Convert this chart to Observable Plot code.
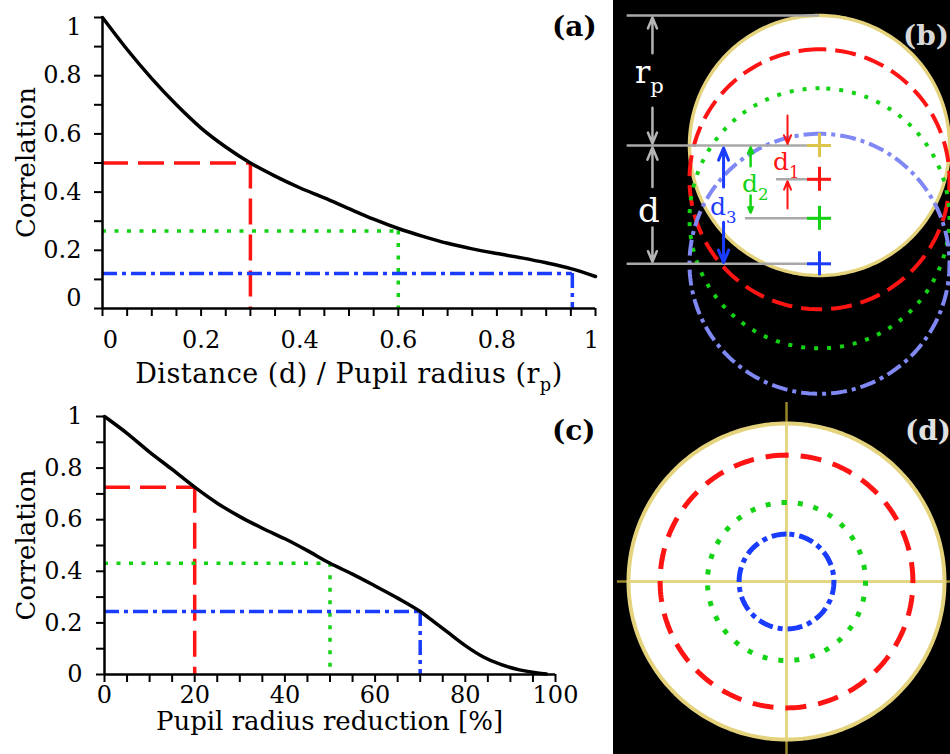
<!DOCTYPE html>
<html>
<head>
<meta charset="utf-8">
<script src="https://cdn.jsdelivr.net/npm/d3@7"></script>
<script src="https://cdn.jsdelivr.net/npm/@observablehq/plot@0.6"></script>
<style>
  html, body { margin: 0; padding: 0; background: #fff; }
  #root { position: relative; width: 950px; height: 754px; overflow: hidden; background: #fff; }
  #root svg { position: absolute; display: block; }
  #root svg g[aria-label$="tick label"] { font-size: 24px !important; font-family: 'DejaVu Serif', serif; }
  #dark { position: absolute; left: 613px; top: 0; width: 337px; height: 754px; background: #000; }
</style>
</head>
<body>
<div id="root"><div id="dark"></div></div>
<script>
// ---------------- DATA ----------------
// Panel (a): correlation vs distance d / pupil radius r_p
const aDist = [0, 0.05, 0.1, 0.15, 0.2, 0.25, 0.3, 0.35, 0.4, 0.45, 0.5, 0.55, 0.6, 0.65, 0.7, 0.75, 0.8, 0.85, 0.9, 0.95, 1.0];
const aCorr = [1.0, 0.89, 0.79, 0.70, 0.62, 0.555, 0.50, 0.455, 0.415, 0.38, 0.343, 0.307, 0.275, 0.248, 0.224, 0.205, 0.189, 0.174, 0.157, 0.137, 0.11];
const aRefDist = [0.3, 0.6, 0.953];
const aRefCorr = [0.5, 0.266, 0.12];
const aXTicks = [0, 0.2, 0.4, 0.6, 0.8, 1];
const aYTicks = [0, 0.2, 0.4, 0.6, 0.8, 1];

// Panel (c): correlation vs pupil radius reduction [%]
const cReduction = [0, 5, 10, 15, 20, 25, 30, 35, 40, 45, 50, 55, 60, 65, 70, 73, 76, 80, 84, 88, 92, 96, 98];
const cCorr = [1.0, 0.935, 0.862, 0.795, 0.726, 0.664, 0.612, 0.567, 0.526, 0.48, 0.431, 0.389, 0.343, 0.296, 0.244, 0.205, 0.165, 0.112, 0.068, 0.038, 0.018, 0.006, 0.002];
const cRefReduction = [20, 50, 70];
const cRefCorr = [0.726, 0.431, 0.244];
const cXTicks = [0, 20, 40, 60, 80, 100];
const cYTicks = [0, 0.2, 0.4, 0.6, 0.8, 1];

// Panel (b): displacement of the shifted pupils (units of r_p), as drawn
const bShift = [0.26, 0.56, 0.91];
const bSubs = ["1", "2", "3"];

// ---------------- STYLE ----------------
const FONT = "'DejaVu Serif', serif";
const refColors = ["#ff1414", "#14d214", "#1a3cff"];
const bColors = ["#ff1414", "#14d214", "#7f88f3"];
const dashPlot = ["26,10", "4,8.5", "15,5,4,5"];
const fmt = d3.format("~g");
const root = document.getElementById("root");

function place(svg, left, top) {
  svg.style.left = left + "px";
  svg.style.top = top + "px";
  root.appendChild(svg);
  return svg;
}

function addText(svg, x, y, parts, o) {
  const t = d3.select(svg).append("text")
    .attr("x", x).attr("y", y)
    .attr("font-family", FONT).attr("font-size", o.size)
    .attr("fill", o.fill || "black")
    .attr("font-weight", o.weight || "normal")
    .attr("text-anchor", o.anchor || "start");
  if (o.spacing) t.attr("letter-spacing", o.spacing);
  if (o.rotate) t.attr("transform", `rotate(${o.rotate},${x},${y})`);
  let inSub = false;
  for (const [txt, sub] of parts) {
    const s = t.append("tspan").text(txt);
    if (sub && !inSub) { s.attr("dy", o.size * 0.3); inSub = true; }
    else if (!sub && inSub) { s.attr("dy", -o.size * 0.3); inSub = false; }
    if (sub) s.attr("font-size", o.size * 0.66);
  }
  return t;
}

function axisMarks(axis, labels, offsets, minor, pad) {
  const A = axis === "x" ? Plot.axisX : Plot.axisY;
  const common = {tickSize: 0, tickPadding: pad, label: null, fontSize: 24, tickFormat: fmt};
  const off = axis === "x" ? "dx" : "dy";
  const marks = [
    A({ticks: minor, tickSize: 8, strokeWidth: 2, tickFormat: () => "", label: null}),
    A({...common, ticks: labels.filter(v => !(v in offsets))})
  ];
  for (const v of labels) if (v in offsets) marks.push(A({...common, ticks: [v], [off]: offsets[v]}));
  return marks;
}

function refMarks(xs, ys, colors) {
  const marks = [];
  xs.forEach((xv, i) => {
    const row = [{x: xv, y: ys[i]}];
    marks.push(Plot.ruleY(row, {y: "y", x1: 0, x2: "x", stroke: colors[i], strokeWidth: 3.5, strokeDasharray: dashPlot[i]}));
    marks.push(Plot.ruleX(row, {x: "x", y1: "y", y2: 0, stroke: colors[i], strokeWidth: 3.5, strokeDasharray: dashPlot[i]}));
  });
  return marks;
}

// ---------------- PANEL (a) ----------------
const aRows = aDist.map((d, i) => ({d, c: aCorr[i]}));
const plotA = Plot.plot({
  width: 612, height: 395,
  marginLeft: 102, marginRight: 17, marginTop: 17, marginBottom: 87,
  x: {domain: [0, 1]}, y: {domain: [0, 1]},
  style: {fontFamily: FONT, fontSize: "24px", color: "black", background: "white", overflow: "visible"},
  marks: [
    ...refMarks(aRefDist, aRefCorr, refColors),
    Plot.line(aRows, {x: "d", y: "c", curve: "monotone-x", stroke: "black", strokeWidth: 3.5}),
    Plot.ruleY([0], {stroke: "black", strokeWidth: 2.5}),
    Plot.ruleX([0], {stroke: "black", strokeWidth: 2.5}),
    ...axisMarks("x", aXTicks, {0: 8, 1: -4}, d3.range(0, 1.0001, 0.05), 22),
    ...axisMarks("y", aYTicks, {0: -10, 1: 10}, d3.range(0, 1.0001, 0.1), 21)
  ]
});
place(plotA, 0, 0);
addText(plotA, 349, 383, [["Distance (d) / Pupil radius (r", false], ["p", true], [")", false]], {size: 27, anchor: "middle", spacing: 0.5});
addText(plotA, 35, 162.5, [["Correlation", false]], {size: 26, anchor: "middle", rotate: -90});
addText(plotA, 552, 36, [["(a)", false]], {size: 28, weight: "bold"});

// ---------------- PANEL (c) ----------------
const cRows = cReduction.map((r, i) => ({r, c: cCorr[i]}));
const plotC = Plot.plot({
  width: 612, height: 374,
  marginLeft: 104, marginRight: 57, marginTop: 36, marginBottom: 80,
  x: {domain: [0, 100]}, y: {domain: [0, 1]},
  style: {fontFamily: FONT, fontSize: "24px", color: "black", background: "transparent", overflow: "visible"},
  marks: [
    ...refMarks(cRefReduction, cRefCorr, refColors),
    Plot.line(cRows, {x: "r", y: "c", curve: "monotone-x", stroke: "black", strokeWidth: 3.5}),
    Plot.ruleY([0], {stroke: "black", strokeWidth: 2.5}),
    Plot.ruleX([0], {stroke: "black", strokeWidth: 2.5}),
    ...axisMarks("x", cXTicks, {}, d3.range(0, 100.001, 5), 11),
    ...axisMarks("y", cYTicks, {}, d3.range(0, 1.0001, 0.1), 22)
  ]
});
place(plotC, 0, 380);
addText(plotC, 329.5, 350, [["Pupil radius reduction [%]", false]], {size: 26, anchor: "middle"});
addText(plotC, 35, 165, [["Correlation", false]], {size: 26, anchor: "middle", rotate: -90});
addText(plotC, 552, 60, [["(c)", false]], {size: 28, weight: "bold"});

// ---------------- helpers for diagrams ----------------
function circlePoints(cx, cy, r, n = 240) {
  return d3.range(n).map(i => {
    const t = Math.PI / 2 + 2 * Math.PI * i / n;
    return {x: cx + r * Math.cos(t), y: cy + r * Math.sin(t)};
  });
}

// ---------------- PANEL (b) ----------------
const UB = 130, bW = 337, bH = 400, bCx = 206, bCy = 145;
const gray = "#a8a8a8";
const bMarks = [
  Plot.line(circlePoints(0, 0, 1), {x: "x", y: "y", curve: "linear-closed", fill: "white", stroke: "#e4d37c", strokeWidth: 3.5})
];
bShift.forEach((s, i) => {
  bMarks.push(Plot.line(circlePoints(0, -s, 1), {x: "x", y: "y", curve: "linear-closed", stroke: bColors[i], strokeWidth: 4, strokeDasharray: ["21,9", "4,9", "16,5,4,5"][i], strokeLinecap: "butt"}));
});
const xLeftB = -1.48;
bMarks.push(Plot.ruleY([1, 0, -bShift[2]], {y: d => d, x1: xLeftB, x2: 0, stroke: gray, strokeWidth: 2.5}));
bMarks.push(Plot.ruleY([-bShift[0]], {y: d => d, x1: -0.33, x2: 0, stroke: gray, strokeWidth: 2.5}));
bMarks.push(Plot.ruleY([-bShift[1]], {y: d => d, x1: -0.57, x2: 0, stroke: gray, strokeWidth: 2.5}));
const crossCenters = [0, ...bShift.map(s => -s)];
const crossColors = ["#dcc54a", refColors[0], refColors[1], refColors[2]];
const h = 12 / UB;
crossCenters.forEach((c, i) => {
  bMarks.push(Plot.ruleX([c], {x: 0, y1: d => d - h, y2: d => d + h, stroke: crossColors[i], strokeWidth: 3}));
  bMarks.push(Plot.ruleY([c], {y: d => d, x1: -h, x2: h, stroke: crossColors[i], strokeWidth: 3}));
});
const arrowOpts = {x1: "x", x2: "x", y1: "y1", y2: "y2", headLength: 10, headAngle: 45};
const xArrowRD = -1.285;
bMarks.push(Plot.arrow([
  {x: xArrowRD, y1: 1 - 0.29, y2: 1 - 0.015},
  {x: xArrowRD, y1: 0.29, y2: 0.015},
  {x: xArrowRD, y1: -0.32, y2: -0.015},
  {x: xArrowRD, y1: -0.63, y2: -bShift[2] + 0.015}
], {...arrowOpts, stroke: "#b4b4b4", strokeWidth: 2.5}));
bMarks.push(Plot.arrow([
  {x: -0.246, y1: 0.23, y2: 0.012},
  {x: -0.246, y1: -0.485, y2: -bShift[0] - 0.015}
], {...arrowOpts, stroke: refColors[0], strokeWidth: 2}));
bMarks.push(Plot.arrow([
  {x: -0.53, y1: -0.16, y2: -0.015},
  {x: -0.53, y1: -0.385, y2: -bShift[1] + 0.045}
], {...arrowOpts, stroke: refColors[1], strokeWidth: 2.5}));
bMarks.push(Plot.arrow([
  {x: -0.738, y1: -0.32, y2: -0.02},
  {x: -0.738, y1: -0.59, y2: -bShift[2] + 0.01}
], {...arrowOpts, stroke: refColors[2], strokeWidth: 3}));

const plotB = Plot.plot({
  width: bW, height: bH, margin: 0,
  x: {domain: [-bCx / UB, (bW - bCx) / UB], axis: null},
  y: {domain: [-(bH - bCy) / UB, bCy / UB], axis: null},
  style: {background: "black", fontFamily: FONT},
  marks: bMarks
});
place(plotB, 613, 0);
addText(plotB, 22, 83, [["r", false], ["p", true]], {size: 32, fill: "white"});
addText(plotB, 25, 222, [["d", false]], {size: 34, fill: "white"});
const bLabelPos = [[160, 170], [129, 192], [97, 215]];
bSubs.forEach((s, i) => {
  addText(plotB, bLabelPos[i][0], bLabelPos[i][1], [["d", false], [s, true]], {size: 25, fill: refColors[i]});
});
addText(plotB, 290, 45, [["(b)", false]], {size: 28, weight: "bold", fill: "#d8d8d8"});

// ---------------- PANEL (d) ----------------
const UD = 158, dW = 337, dH = 354, dCx = 173, dCy = 181;
const dMarks = [
  Plot.ruleY([0], {y: d => d, x1: -1.07, x2: (dW - dCx) / UD, stroke: "#9a8628", strokeWidth: 2.5}),
  Plot.ruleX([0], {x: d => d, y1: -(dH - dCy) / UD, y2: 1.133, stroke: "#9a8628", strokeWidth: 2.5}),
  Plot.line(circlePoints(0, 0, 1), {x: "x", y: "y", curve: "linear-closed", fill: "white", stroke: "#e4d37c", strokeWidth: 4}),
  Plot.ruleY([0], {y: d => d, x1: -1, x2: 1, stroke: "#e4d683", strokeWidth: 3}),
  Plot.ruleX([0], {x: d => d, y1: -1, y2: 1, stroke: "#e4d683", strokeWidth: 3})
];
cRefReduction.forEach((red, i) => {
  dMarks.push(Plot.line(circlePoints(0, 0, 1 - red / 100), {x: "x", y: "y", curve: "linear-closed", stroke: refColors[i], strokeWidth: 5, strokeDasharray: ["21,12", "5,11", "15,5,5,5"][i], strokeLinecap: "butt"}));
});
const plotD = Plot.plot({
  width: dW, height: dH, margin: 0,
  x: {domain: [-dCx / UD, (dW - dCx) / UD], axis: null},
  y: {domain: [-(dH - dCy) / UD, dCy / UD], axis: null},
  style: {background: "black", fontFamily: FONT},
  marks: dMarks
});
place(plotD, 613, 400);
addText(plotD, 292, 40, [["(d)", false]], {size: 28, weight: "bold", fill: "#e0e0e0"});
</script>
</body>
</html>
